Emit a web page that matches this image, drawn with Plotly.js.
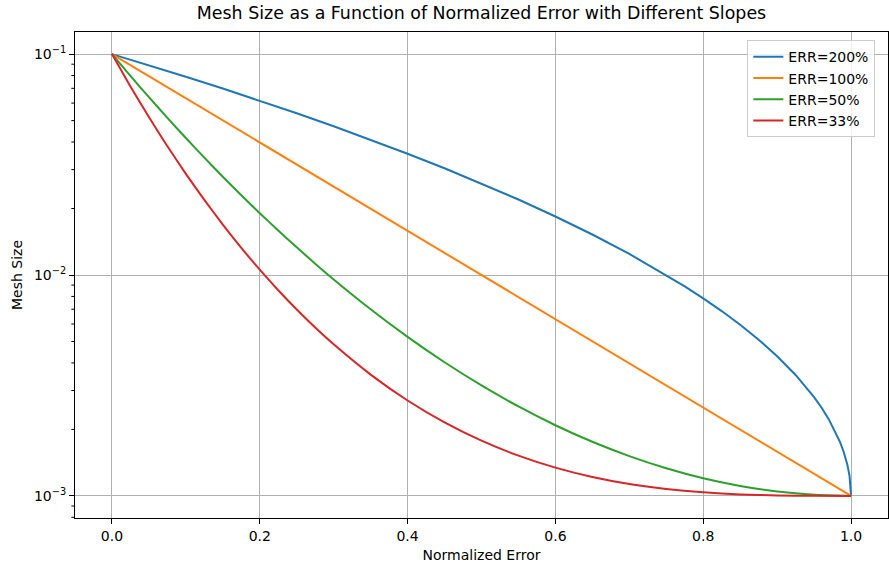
<!DOCTYPE html>
<html>
<head>
<meta charset="utf-8">
<script src="https://cdn.plot.ly/plotly-3.0.1.min.js"></script>
<style>html,body{margin:0;padding:0;background:#fff;}#chart{width:889px;height:564px;}</style>
</head>
<body>
<div id="chart"></div>
<script>
// Normalized error values (x) for ERR=100%
const normalizedError = [0, 0.05, 0.1, 0.15, 0.2, 0.25, 0.3, 0.35, 0.4, 0.45, 0.5, 0.55, 0.6, 0.65, 0.7, 0.75, 0.8, 0.85, 0.9, 0.95, 1.0];
// Denser x for the steep ERR=200% curve near 1.0
const normalizedError200 = [0, 0.05, 0.1, 0.15, 0.2, 0.25, 0.3, 0.35, 0.4, 0.45, 0.5, 0.55, 0.6, 0.65, 0.7, 0.75, 0.775, 0.8, 0.825, 0.85, 0.875, 0.9, 0.925, 0.95, 0.96, 0.97, 0.98, 0.985, 0.99, 0.995, 0.998, 1.0];
// Denser x for the curved ERR=50% / ERR=33% curves near 0
const normalizedErrorLow = [0, 0.025, 0.05, 0.075, 0.1, 0.125, 0.15, 0.175, 0.2, 0.225, 0.25, 0.275, 0.3, 0.35, 0.4, 0.45, 0.5, 0.55, 0.6, 0.65, 0.7, 0.75, 0.8, 0.85, 0.9, 0.95, 1.0];

// Mesh size series
const err200 = [0.1, 0.08901, 0.07894, 0.06982, 0.06149, 0.05396, 0.04713, 0.04098, 0.03541, 0.03042, 0.02596, 0.02197, 0.01840, 0.01525, 0.01246, 0.01, 0.008887, 0.007842, 0.006866, 0.005952, 0.005096, 0.004290, 0.003529, 0.002801, 0.002512, 0.002220, 0.001918, 0.001758, 0.001585, 0.001385, 0.001229, 0.001];
const err100 = [0.1, 0.07943, 0.06310, 0.05012, 0.03981, 0.03162, 0.02512, 0.01995, 0.01585, 0.01259, 0.01, 0.007943, 0.006310, 0.005012, 0.003981, 0.003162, 0.002512, 0.001995, 0.001585, 0.001259, 0.001];
const err50 = [0.1, 0.07966, 0.06383, 0.05144, 0.04169, 0.03398, 0.02786, 0.02298, 0.01905, 0.01589, 0.01334, 0.01125, 0.009550, 0.006998, 0.005248, 0.004027, 0.003162, 0.002541, 0.002089, 0.001758, 0.001514, 0.001334, 0.001202, 0.001109, 0.001047, 0.001012, 0.001];
const err33 = [0.1, 0.07142, 0.05186, 0.03827, 0.02871, 0.02187, 0.01692, 0.01327, 0.01057, 0.008530, 0.006978, 0.005783, 0.004853, 0.003542, 0.002704, 0.002151, 0.001778, 0.001522, 0.001343, 0.001218, 0.001132, 0.001075, 0.001038, 0.001016, 0.001005, 0.001001, 0.001];

const seriesNames = ["ERR=200%", "ERR=100%", "ERR=50%", "ERR=33%"];
const seriesX = [normalizedError200, normalizedError, normalizedErrorLow, normalizedErrorLow];
const seriesValues = [err200, err100, err50, err33];
const seriesShapes = ["linear", "linear", "spline", "spline"];
const colors = ["#1f77b4", "#ff7f0e", "#2ca02c", "#d62728"];

const xTickVals = [0, 0.2, 0.4, 0.6, 0.8, 1.0];
const xTickText = ["0.0", "0.2", "0.4", "0.6", "0.8", "1.0"];
const yTickVals = [0.001, 0.01, 0.1];
const yTickText = ["10<sup>\u22123</sup>", "10<sup>\u22122</sup>", "10<sup>\u22121</sup>"];
const yMinorTickVals = [0.0008, 0.0009, 0.002, 0.003, 0.004, 0.005, 0.006, 0.007, 0.008, 0.009,
  0.02, 0.03, 0.04, 0.05, 0.06, 0.07, 0.08, 0.09];

const traces = seriesNames.map((name, i) => ({
  x: seriesX[i],
  y: seriesValues[i],
  type: "scatter",
  mode: "lines",
  name: name,
  line: {color: colors[i], width: 2, shape: seriesShapes[i], smoothing: 0.5}
}));

// minor log ticks on the y axis, placed through the y axis scale
const minorTickShapes = yMinorTickVals.map(v => ({
  type: "line", xref: "paper", yref: "y",
  x0: -0.0045, x1: 0, y0: v, y1: v,
  line: {color: "#000", width: 1}, layer: "above"
}));

const font = {family: "DejaVu Sans, sans-serif", color: "#000"};

const layout = {
  width: 889,
  height: 564,
  margin: {l: 75, r: 1, t: 32, b: 46},
  paper_bgcolor: "#fff",
  plot_bgcolor: "#fff",
  font: Object.assign({size: 14}, font),
  showlegend: true,
  title: {
    text: "Mesh Size as a Function of Normalized Error with Different Slopes",
    font: Object.assign({size: 17.4}, font),
    x: 0.5, xref: "paper", xanchor: "center",
    y: 1, yref: "container", yanchor: "top", pad: {t: 7}
  },
  xaxis: {
    range: [-0.05, 1.05],
    tickmode: "array",
    tickvals: xTickVals,
    ticktext: xTickText,
    ticks: "outside", ticklen: 5, tickcolor: "#000", tickwidth: 1,
    showgrid: true, gridcolor: "#b0b0b0", gridwidth: 1,
    zeroline: false,
    showline: true, linecolor: "#000", linewidth: 1, mirror: true,
    tickfont: Object.assign({size: 14}, font),
    title: {text: "Normalized Error", font: Object.assign({size: 14}, font), standoff: 7}
  },
  yaxis: {
    type: "log",
    range: [-3.1, -0.9],
    tickmode: "array",
    tickvals: yTickVals,
    ticktext: yTickText,
    ticks: "outside", ticklen: 5, tickcolor: "#000", tickwidth: 1,
    showgrid: true, gridcolor: "#b0b0b0", gridwidth: 1,
    zeroline: false,
    showline: true, linecolor: "#000", linewidth: 1, mirror: true,
    tickfont: Object.assign({size: 14}, font),
    title: {text: "Mesh Size", font: Object.assign({size: 14}, font), standoff: 8}
  },
  shapes: minorTickShapes,
  legend: {
    x: 0.827, y: 0.983, xanchor: "left", yanchor: "top",
    bgcolor: "rgba(255,255,255,0.8)",
    bordercolor: "#cccccc", borderwidth: 1,
    font: Object.assign({size: 14}, font),
    tracegroupgap: 0
  }
};

Plotly.newPlot("chart", traces, layout, {displayModeBar: false, staticPlot: true});
</script>
</body>
</html>
